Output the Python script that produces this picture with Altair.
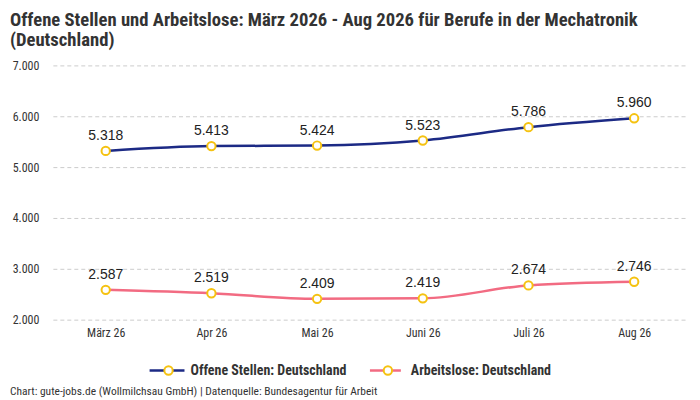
import altair as alt
import pandas as pd

months = ["März 26", "Apr 26", "Mai 26", "Juni 26", "Juli 26", "Aug 26"]
offene = [5318, 5413, 5424, 5523, 5786, 5960]
arbeitslose = [2587, 2519, 2409, 2419, 2674, 2746]
series_names = ["Offene Stellen: Deutschland", "Arbeitslose: Deutschland"]
colors = ["#1c2a85", "#f26b82"]
y_ticks = [2000, 3000, 4000, 5000, 6000, 7000]
title_lines = ["Offene Stellen und Arbeitslose: März 2026 - Aug 2026 für Berufe in der Mechatronik",
               "(Deutschland)"]
footer = "Chart: gute-jobs.de (Wollmilchsau GmbH) | Datenquelle: Bundesagentur für Arbeit"

NARROW = "Liberation Sans Narrow, Roboto Condensed, Liberation Sans, sans-serif"
POINT_COLOR = "#f5c211"

rows = []
for name, vals in zip(series_names, [offene, arbeitslose]):
    for m, v in zip(months, vals):
        rows.append({"Monat": m, "Serie": name, "Wert": v,
                     "Label": f"{v:,}".replace(",", ".")})
df = pd.DataFrame(rows)

x = alt.X("Monat:N", sort=months,
          scale=alt.Scale(type="point", padding=0.5),
          axis=alt.Axis(title=None, labelAngle=0, domain=False, ticks=False, grid=False,
                        labelPadding=8, labelFontSize=12, labelColor="#333333", labelFont=NARROW))
y = alt.Y("Wert:Q",
          scale=alt.Scale(domain=[2000, 7000], nice=False, zero=False),
          axis=alt.Axis(title=None, values=y_ticks,
                        labelExpr="replace(format(datum.value, ','), ',', '.')",
                        domain=False, ticks=False, gridDash=[4, 3], gridColor="#cccccc",
                        labelPadding=14, labelFontSize=12, labelColor="#333333", labelFont=NARROW))
color = alt.Color("Serie:N", scale=alt.Scale(domain=series_names, range=colors), legend=None)

base = alt.Chart(df)
lines = base.mark_line(interpolate="monotone", strokeWidth=2.5).encode(x=x, y=y, color=color)
points = base.mark_point(shape="circle", filled=True, fill="white", stroke=POINT_COLOR,
                         strokeWidth=2, size=70, opacity=1).encode(x=x, y=y)
labels = base.mark_text(dy=-15, fontSize=14, color="#222222",
                        font="Liberation Sans, Arial, sans-serif").encode(x=x, y=y, text="Label:N")

one = pd.DataFrame({"k": [0]})
legend_layers = []
legend_pos = [(97, 132, 116, 138), (318, 349, 336, 359)]
LEG_Y = 306
for (x1, x2, cx, tx), name, col in zip(legend_pos, series_names, colors):
    legend_layers.append(alt.Chart(one).mark_rule(color=col, strokeWidth=2.5).encode(
        x=alt.value(x1), x2=alt.value(x2), y=alt.value(LEG_Y)))
    legend_layers.append(alt.Chart(one).mark_point(shape="circle", filled=True, fill="white",
                                                   stroke=POINT_COLOR, strokeWidth=2, size=70,
                                                   opacity=1).encode(
        x=alt.value(cx), y=alt.value(LEG_Y)))
    legend_layers.append(alt.Chart(one).mark_text(align="left", baseline="middle", fontSize=14,
                                                  fontWeight="bold", color="#333333",
                                                  font=NARROW).encode(
        x=alt.value(tx), y=alt.value(LEG_Y), text=alt.value(name)))

footer_layer = alt.Chart(one).mark_text(align="left", baseline="middle", fontSize=11.5,
                                        color="#333333", font=NARROW).encode(
    x=alt.value(-43), y=alt.value(328), text=alt.value(footer))

chart = alt.layer(lines, points, labels, *legend_layers, footer_layer).properties(
    width=636, height=255,
    padding={"left": 2, "top": 2, "right": 5, "bottom": 0},
    title=alt.TitleParams(text=title_lines, anchor="start", frame="bounds", fontSize=18.7,
                          fontWeight="bold", font=NARROW, color="#333333", lineHeight=20,
                          offset=10),
).configure_view(stroke=None)

chart.save("out.html", embed_options={"renderer": "svg", "actions": False})
